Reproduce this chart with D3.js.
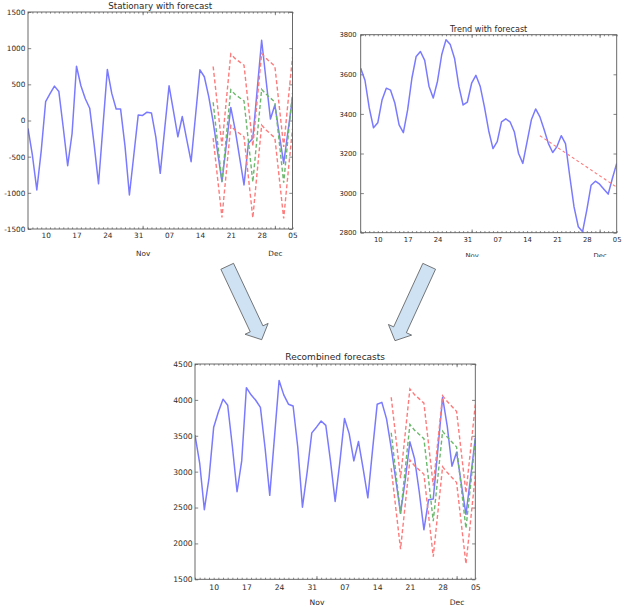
<!DOCTYPE html>
<html><head><meta charset="utf-8">
<script src="https://cdn.jsdelivr.net/npm/d3@7"></script>
<style>body{margin:0;background:#fff}svg{display:block}</style>
</head><body>
<svg id="c" width="624" height="607"></svg>
<script>
// ---------- data ----------
const days = ["10-06","10-07","10-08","10-09","10-10","10-11","10-12","10-13","10-14","10-15","10-16","10-17","10-18","10-19","10-20","10-21","10-22","10-23","10-24","10-25","10-26","10-27","10-28","10-29","10-30","10-31","11-01","11-02","11-03","11-04","11-05","11-06","11-07","11-08","11-09","11-10","11-11","11-12","11-13","11-14","11-15","11-16","11-17","11-18","11-19","11-20","11-21","11-22","11-23","11-24","11-25","11-26","11-27","11-28","11-29","11-30","12-01","12-02","12-03","12-04","12-05"];
const stationary = [-110,-480,-960,-420,260,370,475,400,-100,-625,-180,750,480,300,170,-330,-875,-85,705,375,160,160,-350,-1030,-480,75,70,115,105,-230,-730,-120,480,130,-225,55,-260,-570,65,700,605,330,-20,-430,-845,-330,180,-130,-510,-890,-315,-245,430,1110,560,20,215,-190,-590,-140,315];
const trend = [3630,3570,3430,3330,3355,3470,3530,3520,3455,3345,3305,3420,3580,3690,3715,3670,3540,3480,3565,3700,3775,3750,3680,3540,3445,3460,3555,3595,3540,3435,3315,3225,3260,3360,3375,3360,3310,3200,3150,3260,3370,3425,3385,3320,3250,3205,3235,3290,3250,3085,2930,2830,2805,2915,3040,3060,3045,3020,2995,3075,3150];
const recombined = [3510,3120,2470,2910,3620,3830,4010,3925,3350,2720,3150,4170,4070,3995,3895,3330,2670,3470,4270,4070,3940,3915,3340,2505,2990,3540,3620,3705,3645,3150,2585,3130,3740,3530,3150,3420,3040,2635,3300,3940,3965,3735,3330,2880,2420,2880,3415,3180,2720,2190,2610,2620,3320,4035,3630,3075,3270,2835,2405,2920,3468];

const fcDays = ["11-17","11-18","11-19","11-20","11-21","11-22","11-23","11-24","11-25","11-26","11-27","11-28","11-29","11-30","12-01","12-02","12-03","12-04","12-05"];
const statFcUpper = [747,195,-351,285,920,855,810,765,205,-355,285,925,860,805,750,195,-365,265,875];
const statFcMean  = [252,-300,-846,-210,425,360,315,270,-290,-850,-210,430,365,310,255,-300,-860,-230,380];
const statFcLower = [-243,-795,-1341,-705,-70,-135,-180,-225,-785,-1345,-705,-65,-130,-185,-240,-795,-1355,-725,-115];
const trendFcDays = ["11-17","12-05"];
const trendFc = [3290,3030];
const recFcUpper = [4037,3471,2910,3532,4152,4073,4014,3954,3380,2805,3431,4057,3977,3908,3838,3269,2705,3310,3935];
const recFcMean  = [3542,2976,2415,3037,3657,3578,3519,3459,2885,2310,2936,3562,3482,3413,3343,2774,2210,2815,3440];
const recFcLower = [3047,2481,1920,2542,3162,3083,3024,2964,2390,1815,2441,3067,2987,2918,2848,2279,1715,2320,2945];

const weekTickDays = ["10-10","10-17","10-24","10-31","11-07","11-14","11-21","11-28","12-05"];
const weekTickLabels = ["10","17","24","31","07","14","21","28","05"];
const monthTickDays = ["11-01","12-01"];
const monthTickLabels = ["Nov","Dec"];
const statYTicks = [-1500,-1000,-500,0,500,1000,1500];
const trendYTicks = [2800,3000,3200,3400,3600,3800];
const recYTicks = [1500,2000,2500,3000,3500,4000,4500];

// ---------- drawing ----------
const parse = s => new Date(Date.UTC(2016, +s.slice(0,2)-1, +s.slice(3)));
const svg = d3.select("#c");
const FONT = "DejaVu Sans, sans-serif";
const BLUE = "#7a7aff", RED = "#ff7b7b", GREEN = "#6cb86c", TXT = "#2a2a2a";

function styleAxis(g, size){
  g.select(".domain").remove();
  g.selectAll("line").attr("stroke","#666").attr("stroke-width",0.8);
  g.selectAll("text").attr("fill",TXT).attr("font-family",FONT).attr("font-size",size);
}

function panel(o){
  const g = svg.append("g");
  if (o.clipBottom){
    const cid = "pc"+o.id;
    svg.append("clipPath").attr("id",cid).append("rect").attr("x",0).attr("y",0).attr("width",624).attr("height",o.clipBottom);
    g.attr("clip-path",`url(#${cid})`);
  }
  const x = d3.scaleUtc().domain([parse(days[0]), parse(days[days.length-1])]).range([o.x0,o.x1]);
  const y = d3.scaleLinear().domain(o.yDomain).range([o.y1,o.y0]);
  const H = o.y1-o.y0, W = o.x1-o.x0;
  const dayDates = days.map(parse);

  g.append("text").attr("x",(o.x0+o.x1)/2).attr("y",o.titleY).attr("text-anchor","middle")
    .attr("font-family",FONT).attr("font-size",o.titleSize).attr("fill",TXT).text(o.title);

  const mb = g.append("g").attr("transform",`translate(0,${o.y1})`)
    .call(d3.axisBottom(x).tickValues(dayDates).tickSize(-1.6).tickFormat(""));
  styleAxis(mb,o.tickSize);
  const mt = g.append("g").attr("transform",`translate(0,${o.y0})`)
    .call(d3.axisTop(x).tickValues(dayDates).tickSize(-1.6).tickFormat(""));
  styleAxis(mt,o.tickSize);
  const Mb = g.append("g").attr("transform",`translate(0,${o.y1})`)
    .call(d3.axisBottom(x).tickValues(monthTickDays.map(parse)).tickSize(-3.2).tickFormat(""));
  styleAxis(Mb,o.tickSize);
  const Mt = g.append("g").attr("transform",`translate(0,${o.y0})`)
    .call(d3.axisTop(x).tickValues(monthTickDays.map(parse)).tickSize(-3.2).tickFormat(""));
  styleAxis(Mt,o.tickSize);
  const wl = g.append("g").attr("transform",`translate(0,${o.y1})`)
    .call(d3.axisBottom(x).tickValues(weekTickDays.map(parse)).tickSize(0).tickPadding(o.xPad)
      .tickFormat((d,i)=>weekTickLabels[i]));
  styleAxis(wl,o.tickSize);
  const ml = g.append("g").attr("transform",`translate(0,${o.y1})`)
    .call(d3.axisBottom(x).tickValues(monthTickDays.map(parse)).tickSize(0).tickPadding(o.mPad)
      .tickFormat((d,i)=>monthTickLabels[i]));
  styleAxis(ml,o.tickSize);
  const yl = g.append("g").attr("transform",`translate(${o.x0},0)`)
    .call(d3.axisLeft(y).tickValues(o.yTicks).tickSize(-3.2).tickPadding(o.yPad).tickFormat(d=>String(d)));
  styleAxis(yl,o.tickSize);
  const yr = g.append("g").attr("transform",`translate(${o.x1},0)`)
    .call(d3.axisRight(y).tickValues(o.yTicks).tickSize(-3.2).tickFormat(""));
  styleAxis(yr,o.tickSize);

  const lid = "lc"+o.id;
  svg.append("clipPath").attr("id",lid).append("rect").attr("x",o.x0).attr("y",o.y0).attr("width",W).attr("height",H);
  const lines = g.append("g").attr("clip-path",`url(#${lid})`);
  const line = d3.line().x(d=>x(d[0])).y(d=>y(d[1]));
  const zip = (ds,vs)=>ds.map((d,i)=>[parse(d),vs[i]]);
  lines.append("path").attr("d",line(zip(days,o.main))).attr("fill","none")
    .attr("stroke",BLUE).attr("stroke-width",1.5).attr("stroke-linejoin","round");
  (o.fc||[]).forEach(f=>{
    lines.append("path").attr("d",line(zip(f.days,f.vals))).attr("fill","none")
      .attr("stroke",f.color).attr("stroke-width",f.w||1.4).attr("stroke-dasharray",f.dash||"4,2.5");
  });

  g.append("rect").attr("x",o.x0).attr("y",o.y0).attr("width",W).attr("height",H)
    .attr("fill","none").attr("stroke","#5a5a5a").attr("stroke-width",0.9);
}

panel({id:1, x0:28, x1:292.5, y0:12, y1:229, yDomain:[-1500,1500], yTicks:statYTicks,
  title:"Stationary with forecast", titleY:9.2, titleSize:8.7, tickSize:7.3, xPad:4.3, mPad:22.2, yPad:2.6,
  main:stationary,
  fc:[{days:fcDays,vals:statFcUpper,color:RED},{days:fcDays,vals:statFcLower,color:RED},{days:fcDays,vals:statFcMean,color:GREEN}]});

panel({id:2, x0:360.7, x1:616.7, y0:34.7, y1:232.7, yDomain:[2800,3800], yTicks:trendYTicks,
  title:"Trend with forecast", titleY:32.2, titleSize:8.1, tickSize:6.8, xPad:4.9, mPad:20.6, yPad:4, clipBottom:257,
  main:trend,
  fc:[{days:trendFcDays,vals:trendFc,color:RED,w:1.1,dash:"3,2.5"}]});

panel({id:3, x0:195, x1:475.3, y0:364, y1:579.3, yDomain:[1500,4500], yTicks:recYTicks,
  title:"Recombined forecasts", titleY:360, titleSize:9, tickSize:7.6, xPad:5.8, mPad:20.8, yPad:2.4,
  main:recombined,
  fc:[{days:fcDays,vals:recFcUpper,color:RED},{days:fcDays,vals:recFcLower,color:RED},{days:fcDays,vals:recFcMean,color:GREEN}]});

function arrowPts(tx,ty,hx,hy,sw,hw,hl){
  const dx=hx-tx, dy=hy-ty, L=Math.hypot(dx,dy), ux=dx/L, uy=dy/L, nx=-uy, ny=ux;
  const bx=hx-ux*hl, by=hy-uy*hl;
  return [[tx+nx*sw/2,ty+ny*sw/2],[bx+nx*sw/2,by+ny*sw/2],[bx+nx*hw/2,by+ny*hw/2],[hx,hy],
          [bx-nx*hw/2,by-ny*hw/2],[bx-nx*sw/2,by-ny*sw/2],[tx-nx*sw/2,ty-ny*sw/2]];
}
[[227.2,266.3,261.7,339.7],[429.2,266.3,395,340.7]].forEach(a=>{
  svg.append("polygon").attr("points",arrowPts(a[0],a[1],a[2],a[3],14,25.5,12).map(p=>p.join(",")).join(" "))
    .attr("fill","#cfe2f3").attr("stroke","#555").attr("stroke-width",0.8).attr("stroke-linejoin","miter");
});
</script>
</body></html>
